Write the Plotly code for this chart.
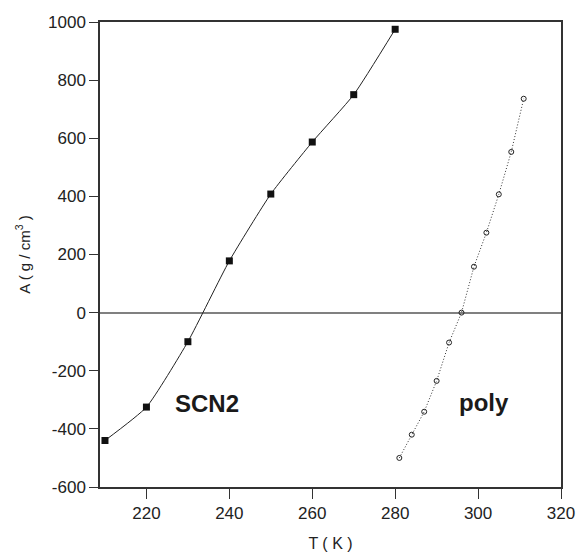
import plotly.graph_objects as go

# SCN2 series (filled squares, solid line)
scn2_T = [210, 220, 230, 240, 250, 260, 270, 280]
scn2_A = [-440, -325, -100, 178, 408, 587, 750, 975]

# poly series (open circles, dotted line)
poly_T = [281, 284, 287, 290, 293, 296, 299, 302, 305, 308, 311]
poly_A = [-500, -420, -341, -235, -103, 0, 158, 275, 407, 553, 736]

x_ticks = [220, 240, 260, 280, 300, 320]
y_ticks = [-600, -400, -200, 0, 200, 400, 600, 800, 1000]
y_tick_text = ["-600", "-400", "-200", "0", "200", "400", "600", "800", "1000"]

FONT = "Liberation Sans, Arial, sans-serif"
AXIS_COLOR = "#333333"

fig = go.Figure()

fig.add_trace(go.Scatter(
    x=scn2_T, y=scn2_A, mode="lines+markers",
    line=dict(color="#222222", width=1, shape="spline", smoothing=0.5),
    marker=dict(symbol="square", size=7, color="#111111"),
    showlegend=False,
))

fig.add_trace(go.Scatter(
    x=poly_T, y=poly_A, mode="lines+markers",
    line=dict(color="#333333", width=1, dash="1px,2px"),
    marker=dict(symbol="circle-open", size=5, color="#222222", line=dict(width=1)),
    showlegend=False,
))

fig.add_annotation(x=234.6, y=-312, text="<b>SCN2</b>", showarrow=False,
                   font=dict(family=FONT, size=24, color="#1a1a1a"))
fig.add_annotation(x=301.4, y=-310, text="<b>poly</b>", showarrow=False,
                   font=dict(family=FONT, size=24, color="#1a1a1a"))

fig.update_layout(
    width=580, height=557,
    margin=dict(l=100, r=19, t=22, b=70),
    paper_bgcolor="white", plot_bgcolor="white",
    font=dict(family=FONT, size=17, color="#222222"),
)

fig.update_xaxes(
    range=[208.8, 320], tickvals=x_ticks, ticks="outside", ticklen=10,
    tickcolor=AXIS_COLOR, showline=True, linecolor=AXIS_COLOR, linewidth=1.5,
    mirror=True, showgrid=False, zeroline=False, automargin=False,
    title=dict(text="T ( K )", font=dict(size=16), standoff=16),
)
fig.update_yaxes(
    range=[-600, 1000], tickvals=y_ticks, ticktext=y_tick_text,
    ticks="outside", ticklen=9,
    tickcolor=AXIS_COLOR, showline=True, linecolor=AXIS_COLOR, linewidth=1.5,
    mirror=True, showgrid=False, automargin=False,
    zeroline=True, zerolinecolor="#808080", zerolinewidth=1.5,
    title=dict(text="A ( g / cm<sup>3</sup> )", font=dict(size=15), standoff=14),
)

fig.write_html("out.html")
